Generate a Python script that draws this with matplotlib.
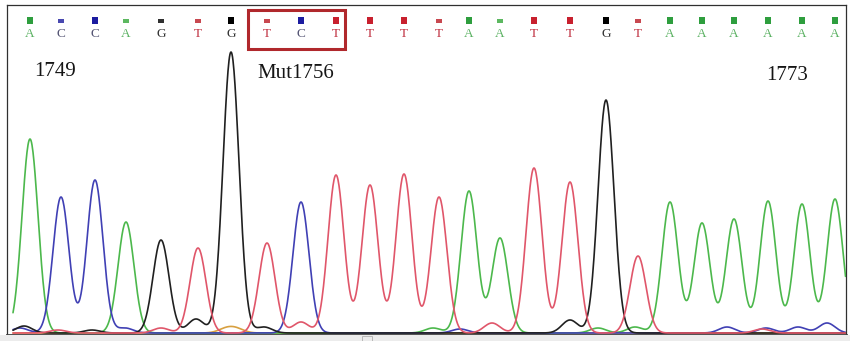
import numpy as np
import matplotlib
matplotlib.use("Agg")
import matplotlib.pyplot as plt
from matplotlib.patches import Rectangle

# ---- data ----
bases = list("ACCAGTGTCTTTTAATTGTAAAAAA")
peak_pos = [30, 61, 95, 126, 161, 198, 231, 267, 301, 336, 370, 404, 439,
            469, 500, 534, 570, 606, 638, 670, 702, 734, 768, 802, 835]
peak_height = [194, 136, 153, 111, 93, 85, 281, 90, 131, 158, 148, 159, 136,
               142, 95, 165, 151, 233, 77, 131, 110, 114, 132, 129, 134]
quality_high = [1, 0, 1, 0, 0, 0, 1, 0, 1, 1, 1, 1, 0,
                1, 0, 1, 1, 1, 0, 1, 1, 1, 1, 1, 1]
minor_base = ['G', 'C', 'T', 'G', 'C', 'T', 'G', 'N', 'N', 'G', 'T', 'A', 'C',
              'T', 'G', 'A', 'A', 'C', 'T', 'C', 'C', 'C']
minor_pos = [24, 20, 58, 92, 125, 161, 196, 226, 236, 264, 301, 433, 460,
             492, 570, 598, 635, 727, 762, 766, 798, 827]
minor_height = [7, 5, 3, 3, 5, 5, 14, 4, 4, 6, 11, 5, 4,
                10, 13, 5, 6, 6, 4, 5, 6, 10]
labels = ["1749", "Mut1756", "1773"]
label_base_index = [0, 7, 24]
mut_span = (7, 9)

trace_col = {'A': '#4cb84c', 'C': '#4040b4', 'G': '#202020', 'T': '#e0566a', 'N': '#d8a040'}
mark_col = {'A': '#2e9e3e', 'C': '#1c1ca0', 'G': '#000000', 'T': '#c8202e'}
mark_col_lo = {'A': '#5cb860', 'C': '#4848b0', 'G': '#303030', 'T': '#c84850'}
text_col = {'A': '#58b060', 'C': '#505070', 'G': '#303030', 'T': '#c03040'}

fig = plt.figure(figsize=(8.5, 3.41), dpi=100)
W, H = 850, 341
# grey strip at the bottom
fig.patches.append(Rectangle((0, 0), 1, 6 / H, transform=fig.transFigure,
                             facecolor='#ececec', edgecolor='none', zorder=0))
fig.patches.append(Rectangle((362 / W, 0.5 / H), 10 / W, 4.5 / H, transform=fig.transFigure,
                             facecolor='none', edgecolor='#b0b0b0', lw=0.6, zorder=1))

ax = fig.add_axes([7 / W, 6 / H, (846 - 7) / W, (335 - 5) / H])
ax.set_xlim(7, 846)
ax.set_ylim(-2, 328)
ax.set_xticks([])
ax.set_yticks([])
for s in ['top', 'left', 'right']:
    ax.spines[s].set_linewidth(0.9)
    ax.spines[s].set_color('#303030')
ax.spines['bottom'].set_linewidth(2.0)
ax.spines['bottom'].set_color('#404040')

x = np.arange(13, 846, 0.5)
sigma = 8.0
traces = {}
for b in 'ACGTN':
    traces[b] = np.zeros_like(x)
for b, p, h in zip(bases, peak_pos, peak_height):
    traces[b] += h * np.exp(-(x - p) ** 2 / (2 * sigma ** 2))
for b, p, h in zip(minor_base, minor_pos, minor_height):
    traces[b] += h * np.exp(-(x - p) ** 2 / (2 * sigma ** 2))

for b in ['N', 'A', 'C', 'G', 'T']:
    ax.plot(x, traces[b], color=trace_col[b], lw=1.2, zorder=3, solid_capstyle='round')

# base-call markers and letters
for b, p, q in zip(bases, peak_pos, quality_high):
    if q:
        ax.add_patch(Rectangle((p - 3, 309), 6, 7, facecolor=mark_col[b], edgecolor='none', zorder=4))
    else:
        ax.add_patch(Rectangle((p - 3, 310), 6, 4, facecolor=mark_col_lo[b], edgecolor='none', zorder=4))
    ax.text(p, 299, b, ha='center', va='center', fontsize=9.5, color=text_col[b],
            family='Liberation Serif', zorder=4)

# mutation box
i0, i1 = mut_span
ax.add_patch(Rectangle((peak_pos[i0] - 19, 284), peak_pos[i1] - peak_pos[i0] + 28, 39,
                       facecolor='none', edgecolor='#b0282c', lw=2.2, zorder=5))

# position labels
offs = [4, -10, -69]
ys = [262, 259, 258]
for t, i, o, yy in zip(labels, label_base_index, offs, ys):
    ax.text(peak_pos[i] + o, yy, t, ha='left', va='center', fontsize=15,
            family='Liberation Serif', color='#151515', zorder=4)

fig.savefig('out.png', dpi=100)
